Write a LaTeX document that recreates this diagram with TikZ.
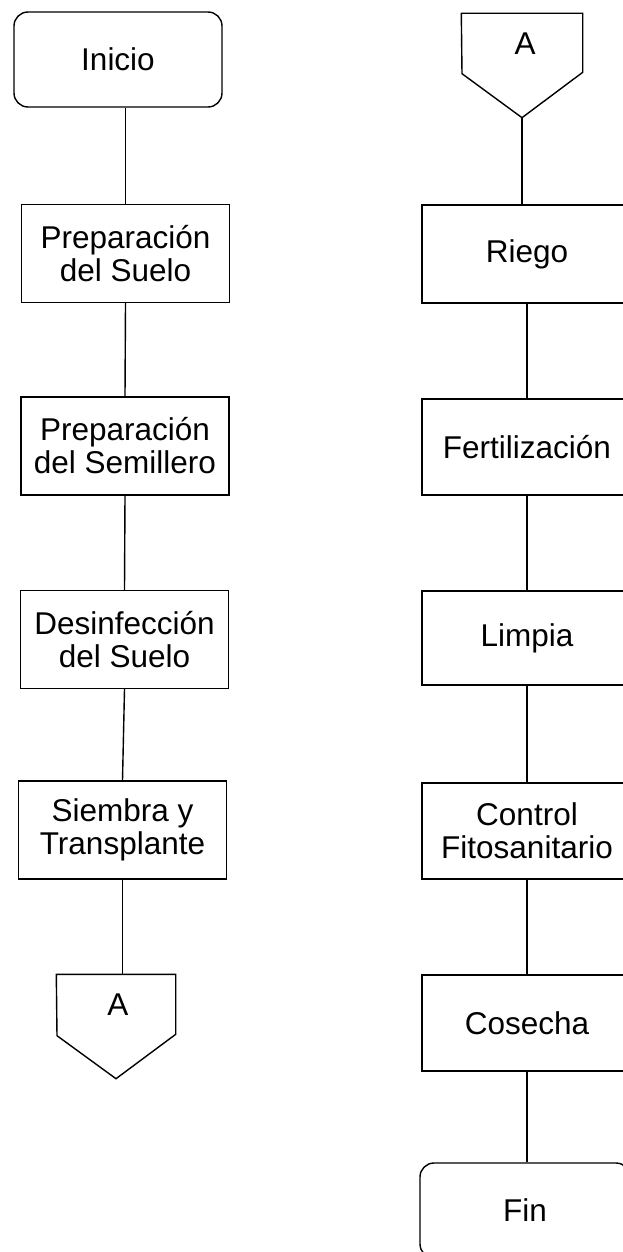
\documentclass[tikz,border=0pt]{standalone}
\usepackage{fontspec}
\setmainfont{Liberation Sans}
\begin{document}
\begin{tikzpicture}[x=1pt,y=-1pt,line width=1.4pt,
  txtfont/.style={font=\fontsize{31.5}{33}\selectfont},
  box/.style={draw,rectangle,minimum width=208pt,minimum height=98pt,inner sep=0pt,align=center,txtfont},
  term/.style={box,rounded corners=14pt,minimum height=95pt},
  conn/.style={minimum width=118pt,minimum height=103pt,inner sep=0pt},
  lbl/.style={inner sep=0pt,txtfont},
  link/.style={line width=1.4pt}]
\useasboundingbox (0,0) rectangle (623,1252);
\clip (0,0) rectangle (623,1252);
% left column
\node[term] (ini) at (118,59.5) {Inicio};
\node[box] (p1) at (125.5,253.5) {Preparación\\del Suelo};
\node[box] (p2) at (125,446) {Preparación\\del Semillero};
\node[box] (p3) at (124.5,639.5) {Desinfección\\del Suelo};
\node[box] (p4) at (122.5,830) {Siembra y\\Transplante};
\node[conn] (a1) at (116,1026.5) {};
\draw (a1.north west) -- (a1.north east) -- ++(0,60) -- (a1.south) -- ++(-59,-43) -- cycle;
\node[lbl] (a1t) at (118,1005) {A};
% right column
\node[conn,minimum width=120pt] (a2) at (522,65.5) {};
\draw (a2.north west) -- (a2.north east) -- ++(0,59) -- (a2.south) -- ++(-60,-44) -- cycle;
\node[lbl] (a2t) at (525,43.5) {A};
\node[box,minimum width=210pt] (r1) at (527,254) {Riego};
\node[box,minimum width=210pt,minimum height=96pt] (r2) at (527,447) {Fertilización};
\node[box,minimum width=210pt,minimum height=94pt] (r3) at (527,638) {Limpia};
\node[box,minimum width=210pt,minimum height=96pt] (r4) at (527,831) {Control\\Fitosanitario};
\node[box,minimum width=210pt,minimum height=96pt] (r5) at (527,1023) {Cosecha};
\node[term,minimum width=210pt] (fin) at (525,1210.5) {Fin};
% connectors
\draw[link] (p1.north |- ini.south) -- (p1.north);
\draw[link] (p1.south) -- (p2.north);
\draw[link] (p2.south) -- (p3.north);
\draw[link] (p3.south) -- (p4.north);
\draw[link] (p4.south) -- (p4.south |- a1.north);
\draw[link] (a2.south) -- (a2.south |- r1.north);
\draw[link] (r1.south) -- (r2.north);
\draw[link] (r2.south) -- (r3.north);
\draw[link] (r3.south) -- (r4.north);
\draw[link] (r4.south) -- (r5.north);
\draw[link] (r5.south) -- (r5.south |- fin.north);
\end{tikzpicture}
\end{document}
